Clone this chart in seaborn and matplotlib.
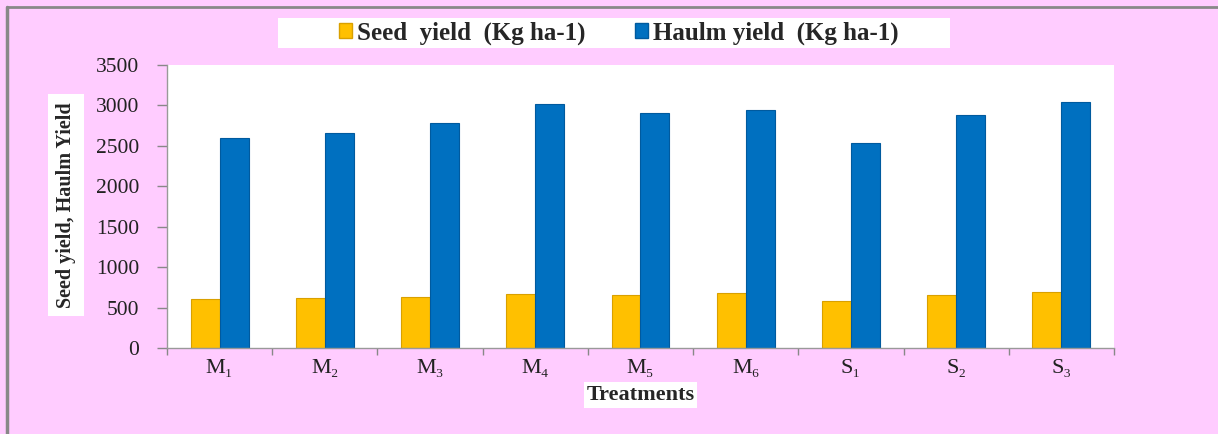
import numpy as np
import pandas as pd
import matplotlib.pyplot as plt
import seaborn as sns

treatments = ["M\u2081", "M\u2082", "M\u2083", "M\u2084", "M\u2085", "M\u2086", "S\u2081", "S\u2082", "S\u2083"]
seed_yield = [602, 615, 627, 668, 660, 680, 581, 652, 689]
haulm_yield = [2594, 2664, 2783, 3022, 2911, 2944, 2536, 2878, 3039]
series_names = ["Seed  yield  (Kg ha-1)", "Haulm yield  (Kg ha-1)"]
y_ticks = [0, 500, 1000, 1500, 2000, 2500, 3000, 3500]

df = pd.DataFrame({
    "Treatment": treatments * 2,
    "Series": [series_names[0]] * len(treatments) + [series_names[1]] * len(treatments),
    "Yield": seed_yield + haulm_yield,
})

sns.set_theme(style="white")
plt.rcParams["font.family"] = ["Liberation Serif", "DejaVu Serif"]

pink = "#FFCCFF"
fig = plt.figure(figsize=(12.18, 4.34), dpi=100, facecolor=pink)
ax = fig.add_axes([0.1371, 0.1982, 0.7775, 0.652])
ax.set_facecolor("white")

sns.barplot(
    data=df, x="Treatment", y="Yield", hue="Series",
    palette=["#FFC000", "#0070C0"], saturation=1, width=0.55, ax=ax,
    edgecolor="none", linewidth=0, legend=False,
)
# darker outline to mimic the bevelled bars
for patch, col in zip(ax.patches, ["#D9A000"] * 9 + ["#005A9E"] * 9):
    patch.set_edgecolor(col)
    patch.set_linewidth(0.8)

ax.set_ylim(0, 3500)
ax.set_xlim(-0.5, len(treatments) - 0.5)
ax.set_yticks(y_ticks)
ax.set_yticklabels([str(v) for v in y_ticks], fontsize=15.5, color="#222222")
ax.set_xticks(range(len(treatments)))
ax.set_xticklabels(treatments, fontsize=16, color="#222222")
ax.tick_params(axis="x", length=0, pad=8)
ax.set_xticks(np.arange(-0.5, len(treatments)), minor=True)
ax.tick_params(axis="x", which="minor", length=5, color="#888888", width=1, direction="out", bottom=True)
ax.tick_params(axis="y", length=7, color="#888888", width=1, direction="out", left=True, pad=13)

for side in ["top", "right"]:
    ax.spines[side].set_visible(False)
for side in ["left", "bottom"]:
    ax.spines[side].set_color("#999999")
    ax.spines[side].set_linewidth(1)

ax.set_xlabel("")
ax.set_ylabel("")
fig.text(0.054, 0.528, "Seed yield, Haulm Yield", rotation=90, ha="center", va="center",
         fontsize=14.5, fontweight="bold",
         bbox=dict(facecolor="white", edgecolor="none", pad=6))
fig.text(0.526, 0.09, "Treatments", ha="center", va="center", fontsize=16, fontweight="bold",
         bbox=dict(facecolor="white", edgecolor="none", pad=2))

# white strip behind the legend
fig.add_artist(plt.Rectangle((278 / 1218, 1 - 48 / 434), 672 / 1218, 30 / 434,
                             facecolor="white", edgecolor="none", transform=fig.transFigure))
handles = [plt.Rectangle((0, 0), 1, 1, facecolor="#FFC000", edgecolor="#D9A000"),
           plt.Rectangle((0, 0), 1, 1, facecolor="#0070C0", edgecolor="#005A9E")]
fig.legend(handles, series_names, loc="center", bbox_to_anchor=(0.508, 0.924), ncol=2,
           frameon=False, prop=dict(size=18, weight="bold"), handlelength=0.5, handleheight=0.5,
           handletextpad=0.2, columnspacing=2.0, borderpad=0, borderaxespad=0)

# outer border lines
fig.add_artist(plt.Line2D([0.006, 0.006], [0, 0.985], color="#888888", lw=2.5, transform=fig.transFigure))
fig.add_artist(plt.Line2D([0.006, 1.0], [0.985, 0.985], color="#888888", lw=2, transform=fig.transFigure))

fig.savefig("out.png", dpi=100, facecolor=pink)
